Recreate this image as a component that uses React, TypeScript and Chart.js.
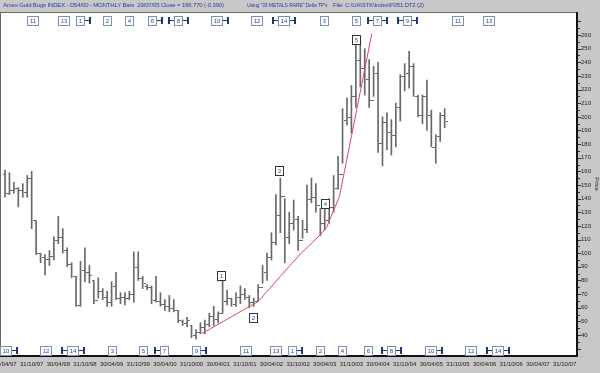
import React, { useEffect, useRef } from 'react';
import { Chart, registerables } from 'chart.js';
Chart.register(...registerables);

// Monthly bars, month index 0 = Apr 1997 ... 99 = Jul 2005
const highs = [161,159,152,148,151,157,160,124,100,99,102,112,127,118,104,93,83,94,104,91,80,82,74,72,79,86,71,71,72,101,101,83,77,76,83,71,66,69,66,58,51,53,47,44,49,51,56,61,57,80,73,67,71,76,74,69,67,77,91,100,115,143,155,140,130,139,127,124,150,155,151,133,134,140,157,171,206,214,223,256,258,250,242,237,240,200,203,198,210,231,239,248,239,216,216,227,205,187,203,206];
const lows = [141,143,144,134,141,141,118,99,93,84,91,95,107,100,90,82,61,61,79,78,63,67,66,61,61,66,63,62,66,64,80,74,73,63,64,61,58,57,57,49,47,46,38,37,41,41,46,47,49,56,62,61,61,63,66,60,61,65,78,80,95,106,115,93,107,117,102,111,115,137,130,113,117,122,130,147,166,194,188,207,222,216,207,215,174,164,176,172,178,197,219,221,215,200,195,190,178,166,182,192];
const opens = [158,144,146,148,146,145,155,124,100,97,96,98,110,112,102,92,83,62,88,86,80,66,72,68,64,76,67,68,67,70,90,82,76,75,66,65,63,61,60,58,50,49,47,40,42,46,48,54,52,56,65,67,63,68,70,68,64,65,75,86,97,108,128,142,112,122,125,110,118,140,141,135,122,124,134,148,158,198,200,215,242,236,228,212,232,181,196,189,187,207,230,232,237,215,201,215,201,178,186,201];
const closes = [144,146,148,146,145,155,124,100,97,96,98,110,112,102,92,83,62,88,86,84,66,72,68,64,76,67,68,67,70,90,82,78,75,66,65,63,61,60,58,51,49,51,40,42,46,48,54,52,56,65,67,63,68,70,68,64,65,75,86,97,108,128,142,112,122,125,110,118,140,141,135,122,124,134,148,158,198,200,215,242,236,228,212,232,181,196,189,187,207,230,232,237,215,201,215,201,178,186,201,196.77];

// Delta TP red trend curve
const trendMonths = [44.3, 57, 62, 66.5, 71, 72.5, 75.3, 82.6];
const trendValues = [41, 64.5, 83, 99.5, 113.5, 119.5, 141.5, 261];

// x tick labels (every 6 months from Apr 1997)
const xTickLabels = ['30/04/97','31/10/97','30/04/98','31/10/98','30/04/99','31/10/99','30/04/00','31/10/00','30/04/01','31/10/01','30/04/02','31/10/02','30/04/03','31/10/03','30/04/04','31/10/04','30/04/05','31/10/05','30/04/06','31/10/06','30/04/07','31/10/07'];
const yTickValues = [40,50,60,70,80,90,100,110,120,130,140,150,160,170,180,190,200,210,220,230,240,250,260];

// In-plot turning point labels
const tpLabels = ['1','2','3','4','5'];
const tpMonths = [48.6, 55.9, 61.7, 72, 79];
const tpValues = [84, 52.7, 161, 136.6, 257];

// Top row Delta TP markers
const topLabels = ['11','13','1','2','4','6','8','10','12','14','3','5','7','9','11','13'];
const topMonths = [6.1, 13.1, 16.9, 23, 27.9, 33.1, 39, 47.7, 56.7, 62.8, 71.8, 79.1, 83.8, 90.5, 101.8, 108.8];
const topBrackets = ['', '', 'R', '', '', 'R', 'B', 'R', '', 'B', '', '', 'B', 'B', '', ''];

// Bottom row Delta TP markers
const bottomLabels = ['10','12','14','3','5','7','9','11','13','1','2','4','6','8','10','12','14'];
const bottomMonths = [0, 9.2, 15.1, 24.1, 31.1, 35.8, 43, 54.1, 60.8, 64.6, 70.9, 75.9, 81.8, 86.9, 95.9, 104.9, 110.8];
const bottomBrackets = ['R', '', 'B', '', '', 'L', 'R', '', '', 'R', '', '', '', 'B', 'R', '', 'B'];

const FONT = '"Liberation Sans", Arial, sans-serif';
const BAR_COLOR = '#686868';

function drawBox(ctx: CanvasRenderingContext2D, cx: number, cy: number, label: string, border: string) {
  const w = label.length > 1 ? 11 : 8;
  const h = 9;
  const x0 = Math.round(cx - w / 2) + 0.5;
  const y0 = Math.round(cy - h / 2) + 0.5;
  ctx.fillStyle = '#ffffff';
  ctx.fillRect(x0, y0, w, h);
  ctx.strokeStyle = border;
  ctx.lineWidth = 1;
  ctx.strokeRect(x0, y0, w, h);
  ctx.fillStyle = '#2a46a8';
  ctx.font = `6px ${FONT}`;
  ctx.textAlign = 'center';
  ctx.textBaseline = 'middle';
  ctx.fillText(label, x0 + w / 2, y0 + h / 2 + 0.5);
  return { x0, w };
}

function drawBracket(ctx: CanvasRenderingContext2D, cx: number, cy: number, label: string, kind: string) {
  const w = label.length > 1 ? 11 : 8;
  ctx.fillStyle = '#1d3a6e';
  const left = Math.round(cx - w / 2);
  const right = left + w + 1;
  const yy = Math.round(cy);
  if (kind === 'R' || kind === 'B') {
    ctx.fillRect(right, yy, 5, 1);
    ctx.fillRect(right + 4, yy - 3, 2, 7);
  }
  if (kind === 'L' || kind === 'B') {
    ctx.fillRect(left - 5, yy, 5, 1);
    ctx.fillRect(left - 6, yy - 3, 2, 7);
  }
}

const decorPlugin = {
  id: 'decor',
  beforeDraw(chart: any) {
    const { ctx, chartArea: a } = chart;
    ctx.save();
    ctx.fillStyle = '#c8c8c8';
    ctx.fillRect(0, 0, chart.width, chart.height);
    ctx.fillStyle = '#ffffff';
    ctx.fillRect(a.left, a.top, a.right - a.left, a.bottom - a.top);
    ctx.restore();
  },
  afterDatasetsDraw(chart: any) {
    const { ctx, scales: { x, y } } = chart;
    ctx.save();
    ctx.fillStyle = BAR_COLOR;
    for (let i = 0; i < highs.length; i++) {
      const px = Math.round(x.getPixelForValue(i));
      const oy = Math.round(y.getPixelForValue(opens[i]));
      const cy = Math.round(y.getPixelForValue(closes[i]));
      ctx.fillRect(px - 2, oy, 2, 1);
      ctx.fillRect(px + 1, cy, 2, 1);
    }
    ctx.restore();
  },
  afterDraw(chart: any) {
    const { ctx, chartArea: a, scales: { x, y } } = chart;
    ctx.save();
    // frame
    ctx.fillStyle = '#6a6a6a';
    ctx.fillRect(a.left, a.top, 1, a.bottom - a.top);
    ctx.fillRect(a.left, a.top, a.right - a.left, 1);
    ctx.fillStyle = '#111111';
    ctx.fillRect(a.right - 1, a.top, 2, a.bottom - a.top + 1);
    ctx.fillRect(a.left, a.bottom - 1, a.right - a.left + 1, 2);
    // minor y ticks
    ctx.fillStyle = '#333';
    for (let v = 30; v <= 270; v += 5) {
      const py = Math.round(y.getPixelForValue(v));
      if (py > a.top && py < a.bottom) ctx.fillRect(a.right + 1, py, v % 10 === 0 ? 3 : 2, 1);
    }
    // in-plot TP boxes
    for (let i = 0; i < tpLabels.length; i++) {
      drawBox(ctx, x.getPixelForValue(tpMonths[i]), y.getPixelForValue(tpValues[i]), tpLabels[i], '#333333');
    }
    // top row
    const topY = a.top + 8;
    for (let i = 0; i < topLabels.length; i++) {
      const cx = x.getPixelForValue(topMonths[i]);
      drawBox(ctx, cx, topY, topLabels[i], '#7f8fae');
      drawBracket(ctx, cx, topY, topLabels[i], topBrackets[i]);
    }
    const botY = a.bottom - 6;
    for (let i = 0; i < bottomLabels.length; i++) {
      const cx = x.getPixelForValue(bottomMonths[i]);
      drawBox(ctx, cx, botY, bottomLabels[i], '#7f8fae');
      drawBracket(ctx, cx, botY, bottomLabels[i], bottomBrackets[i]);
    }
    ctx.restore();
  },
};

export default function App() {
  const ref = useRef<HTMLCanvasElement>(null);
  useEffect(() => {
    document.body.style.margin = '0';
    const xTickMonths = xTickLabels.map((_, i) => i * 6);
    const chart = new Chart(ref.current as HTMLCanvasElement, {
      type: 'bar',
      data: {
        datasets: [
          {
            type: 'line',
            data: trendMonths.map((m, i) => ({ x: m, y: trendValues[i] })),
            borderColor: '#d94a5c',
            borderWidth: 1,
            pointRadius: 0,
            tension: 0,
            fill: false,
          } as any,
          {
            type: 'bar',
            data: highs.map((h, i) => ({ x: i, y: [lows[i], h] })),
            backgroundColor: BAR_COLOR,
            borderWidth: 0,
            barThickness: 1,
          } as any,
        ],
      },
      options: {
        responsive: false,
        maintainAspectRatio: false,
        devicePixelRatio: 1,
        animation: false,
        layout: { padding: { top: 12, left: 0, right: 0, bottom: 0 } },
        plugins: { legend: { display: false }, tooltip: { enabled: false }, title: { display: false } },
        scales: {
          x: {
            type: 'linear',
            min: -1.13,
            max: 128.8,
            offset: false,
            grid: { display: false, drawTicks: false },
            border: { display: false },
            ticks: {
              font: { size: 6, family: FONT },
              color: '#222',
              maxRotation: 0,
              autoSkip: false,
              padding: 5,
              callback: (v: any) => {
                const idx = Math.round(Number(v) / 6);
                return xTickLabels[idx] ?? '';
              },
            },
            afterBuildTicks: (s: any) => {
              s.ticks = xTickMonths.map((v) => ({ value: v }));
            },
            afterFit: (s: any) => {
              s.height = 17;
              s.paddingLeft = 0;
              s.paddingRight = 0;
            },
          },
          y: {
            type: 'linear',
            position: 'right',
            min: 24.6,
            max: 276.9,
            grid: { display: false, drawTicks: false },
            border: { display: false },
            title: { display: true, text: 'Price', font: { size: 6, family: FONT }, color: '#222', padding: 0 },
            ticks: {
              font: { size: 6, family: FONT },
              color: '#222',
              padding: 4,
              autoSkip: false,
            },
            afterBuildTicks: (s: any) => {
              s.ticks = yTickValues.map((v) => ({ value: v }));
            },
            afterFit: (s: any) => {
              s.width = 23;
              s.paddingTop = 0;
              s.paddingBottom = 0;
            },
          },
        },
      },
      plugins: [decorPlugin],
    } as any);
    return () => chart.destroy();
  }, []);

  const headerStyle: React.CSSProperties = {
    position: 'absolute',
    top: 0,
    height: 11,
    fontFamily: FONT,
    fontSize: 6,
    letterSpacing: -0.15,
    lineHeight: '11px',
    color: '#2b40a4',
    whiteSpace: 'pre',
  };

  return (
    <div style={{ position: 'relative', width: 600, height: 373, background: '#c8c8c8', overflow: 'hidden' }}>
      <canvas ref={ref} width={600} height={373} style={{ display: 'block', width: 600, height: 373 }} />
      <div style={{ ...headerStyle, left: 3 }}>{'Amex Gold Bugs INDEX - D54/00 - MONTHLY Bars  29/07/05 Close = 196.770 (-0.390)'}</div>
      <div style={{ ...headerStyle, left: 247, transform: 'scaleX(0.84)', transformOrigin: 'left center' }}>{'Using "33 METALS RARE" Delta TP\'s'}</div>
      <div style={{ ...headerStyle, left: 333 }}>{'File: C:\\UA\\STK\\Index\\F051.DT2 (2)'}</div>
    </div>
  );
}
